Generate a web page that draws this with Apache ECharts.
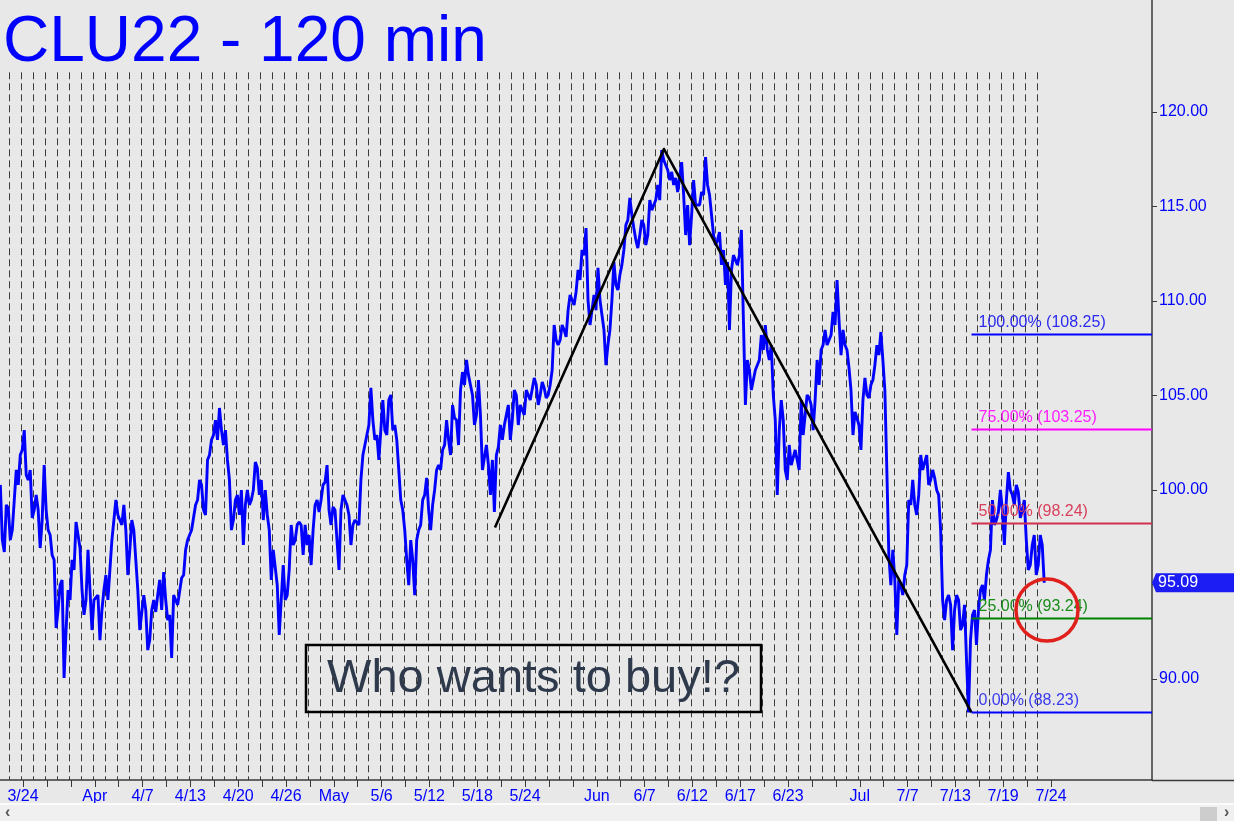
<!DOCTYPE html>
<html><head><meta charset="utf-8">
<script src="https://cdn.jsdelivr.net/npm/echarts@6/dist/echarts.min.js"></script>
<style>html,body{margin:0;padding:0;background:#e8e8e8;overflow:hidden}#c{width:1234px;height:821px}</style>
</head><body><div id="c"></div>
<script>
// ---------- DATA ----------
const chartTitle = 'CLU22 - 120 min';
const barsPerDay = 6;          // samples per trading day
const firstBarDay = -0.75;     // trading-day index of first sample
const prices = [
100.27,97.35,96.72,99.21,99.05,97.35,97.88,99.47,101.06,100.27,
101.85,102.12,103.17,100.79,100.53,101.06,98.52,98.94,99.74,98.94,
96.93,98.41,101.32,98.94,97.88,97.62,96.56,96.30,92.70,93.65,
94.97,95.24,90.05,92.59,94.71,94.18,96.30,95.77,98.31,97.62,
96.93,94.71,93.39,94.18,96.83,94.71,92.59,94.18,94.18,94.44,
92.06,93.65,94.71,95.50,94.18,95.77,97.35,97.35,99.47,98.68,
98.41,98.15,99.21,97.88,95.50,96.83,98.41,97.88,96.30,94.71,
92.59,92.59,94.44,93.65,91.53,92.06,93.65,94.18,93.55,94.44,
95.24,93.65,95.66,94.18,93.12,93.39,91.11,94.44,94.18,93.92,
93.92,95.34,95.50,96.83,97.35,97.62,97.88,97.88,99.21,99.47,
100.53,100.27,98.94,98.68,101.59,101.85,102.65,102.91,103.70,102.65,
104.34,103.17,102.38,103.17,101.59,100.53,97.88,98.41,99.47,99.74,
98.68,100.00,97.09,99.21,100.00,99.21,99.47,100.00,101.48,101.16,
99.74,100.53,98.41,100.00,98.68,97.88,95.24,96.83,96.83,94.97,
92.33,94.18,96.03,94.18,94.44,95.77,98.15,97.09,97.35,98.15,
98.31,98.15,96.56,98.15,97.09,97.62,96.03,97.88,99.21,99.47,
98.84,99.47,100.27,100.42,101.32,98.94,98.15,99.10,98.94,97.35,
95.77,98.94,99.74,99.47,99.21,98.68,97.09,98.15,98.41,98.41,
98.15,100.53,101.85,102.38,102.91,103.44,105.40,103.70,102.65,102.91,
101.59,103.17,104.76,103.17,102.91,104.76,105.03,103.17,103.44,102.65,
101.06,99.47,98.94,97.88,96.30,94.97,97.35,96.30,94.44,97.35,
97.88,98.15,99.47,99.74,100.64,98.94,97.88,99.21,100.00,101.06,
101.32,101.06,102.12,102.38,103.70,102.65,101.85,104.50,103.81,103.70,
102.38,105.29,106.24,105.56,106.88,106.08,105.56,105.03,103.44,103.97,
105.82,103.97,101.06,101.06,102.38,101.32,99.74,101.59,98.84,101.85,
102.28,103.44,102.65,103.44,103.97,104.50,102.65,103.70,105.29,105.03,
103.44,104.50,104.50,103.97,105.29,105.03,104.76,104.76,105.93,105.56,
104.50,105.03,105.71,105.40,104.87,105.03,105.56,106.35,108.73,107.94,
107.67,107.94,108.73,108.47,108.10,109.52,110.32,110.05,109.79,110.48,
111.64,111.11,112.70,112.43,113.86,110.05,108.73,109.52,110.32,109.52,
111.75,110.05,109.26,108.47,106.61,107.67,108.47,110.05,112.06,110.85,
110.58,111.38,111.91,112.70,114.02,114.29,115.45,114.55,113.86,113.23,
112.80,113.49,114.29,114.02,112.96,113.49,115.34,114.81,114.81,115.34,
116.14,115.34,117.99,117.46,117.20,116.93,116.40,116.83,116.14,116.51,
115.77,115.87,117.35,115.61,113.49,115.08,112.96,114.55,116.40,115.08,
115.08,115.08,115.77,115.61,117.62,116.14,115.61,114.55,113.49,112.96,
113.23,113.65,111.91,112.70,110.85,112.06,108.47,111.64,112.43,112.17,
111.91,112.43,113.76,108.99,104.50,106.88,106.35,105.29,105.19,106.35,
106.61,106.88,108.20,107.41,108.73,107.41,106.88,107.67,105.03,103.70,
99.74,103.17,104.76,103.70,101.06,100.53,102.38,101.32,101.32,102.12,
102.12,101.06,104.76,102.91,103.97,105.03,104.87,104.50,103.17,104.76,
106.88,105.56,107.41,107.67,108.47,107.67,107.94,108.20,109.42,108.73,
111.11,108.99,107.14,108.47,107.67,107.41,106.46,105.29,102.91,104.13,
103.81,103.44,102.12,104.76,105.93,105.03,104.87,105.56,105.82,106.61,
107.67,107.14,108.36,106.88,105.29,101.06,96.56,94.97,96.83,95.24,
92.33,95.24,94.97,94.44,95.50,96.03,99.47,99.21,100.53,99.21,
98.68,99.74,101.85,101.06,101.06,101.85,100.27,100.53,101.06,100.64,
100.00,99.74,97.88,94.18,93.12,94.18,94.44,93.92,91.53,93.65,
94.44,94.18,92.59,92.86,93.92,91.01,88.23,92.06,93.39,93.65,
91.80,93.65,94.71,94.97,94.18,95.50,96.30,96.83,99.47,98.15,
98.41,98.84,100.00,98.94,97.09,99.47,100.95,100.00,99.74,99.21,
100.27,99.89,98.52,98.94,99.47,97.35,95.77,96.03,97.09,97.62,
95.50,96.03,97.62,97.09,95.09
];
const lastPrice = 95.09;
const sessionCount = 87;       // trading-day separators
const dateLabels = ['3/24','Apr','4/7','4/13','4/20','4/26','May','5/6','5/12','5/18','5/24','Jun','6/7','6/12','6/17','6/23','Jul','7/7','7/13','7/19','7/24'];
const dateLabelDays = [1,7,11,15,19,23,27,31,35,39,43,49,53,57,61,65,71,75,79,83,87];
const dateTickDays = [1,3,5,7,9,11,13,15,17,19,21,23,25,27,29,31,33,35,37,39,41,43,45,47,49,51,53,55,57,59,61,63,65,67,69,71,73,75,77,79,81,83,85,87];
const yTickValues = [90,95,100,105,110,115,120];
const abcDays = [40.63, 54.77, 80.5];
const abcPrices = [98.02, 118.04, 88.23];
const fibPercents = ['100.00%','75.00%','50.00%','25.00%','0.00%'];
const fibValues = [108.25,103.25,98.24,93.24,88.23];
const noteText = 'Who wants to buy!?';

// ---------- STYLE / LAYOUT ----------
const FONT = '"Liberation Sans", Arial, sans-serif';
const fibLineColors = ['#0000ff','#ff00ff','#d0304f','#008000','#0000ff'];
const fibTextColors = ['#2a2af0','#ff20ff','#d8405c','#1a8c1a','#3a3af0'];
const X_MIN = -0.778, X_MAX = 95.6, Y_MIN = 84.656, Y_MAX = 125.926;
const SEP_TOP = 122.1, TICK_OFF = 0.15;

const chart = echarts.init(document.getElementById('c'), null, {renderer:'canvas'});
const priceData = prices.map((p,i)=>[firstBarDay + i/barsPerDay, p]);
const sepData = Array.from({length:sessionCount},(_,k)=>[k, Y_MIN]);
const fibData = fibValues.map((v,i)=>[abcDays[2], v, i]);

const option = {
  animation:false,
  backgroundColor:'#e8e8e8',
  grid:{left:0,right:82,top:0,bottom:41,containLabel:false},
  xAxis:{type:'value',min:X_MIN,max:X_MAX,
    axisLine:{show:true,onZero:false,lineStyle:{color:'#3a3a3a',width:1.5}},
    axisTick:{show:true,length:7,lineStyle:{color:'#3a3a3a'},customValues:dateTickDays.map(d=>d+TICK_OFF)},
    axisLabel:{show:true,color:'#0000ff',fontSize:16,fontFamily:FONT,margin:9,
      customValues:dateLabelDays.map(d=>d+TICK_OFF),
      formatter:(v)=>{const i=dateLabelDays.findIndex(d=>Math.abs(d+TICK_OFF-v)<0.01);return i>=0?dateLabels[i]:'';}},
    splitLine:{show:false}},
  yAxis:{type:'value',position:'right',min:Y_MIN,max:Y_MAX,
    axisLine:{show:true,onZero:false,lineStyle:{color:'#3a3a3a',width:1.5}},
    axisTick:{show:true,length:5,lineStyle:{color:'#3a3a3a'},customValues:yTickValues},
    axisLabel:{show:true,color:'#0000ff',fontSize:16,fontFamily:FONT,margin:7,
      customValues:yTickValues,formatter:(v)=>v.toFixed(2)},
    splitLine:{show:false}},
  series:[
    {type:'custom',name:'sep',z:1,silent:true,data:sepData,
      renderItem:(params,api)=>{
        const d=api.value(0);
        const p1=api.coord([d,SEP_TOP]), p2=api.coord([d,Y_MIN]);
        const x=Math.round(p1[0])+0.5;
        return {type:'line',shape:{x1:x,y1:p1[1],x2:x,y2:p2[1]},
          style:{stroke:'#3c3c3c',lineWidth:1,lineDash:[7,4]}};
      }},
    {type:'line',name:'price',z:3,data:priceData,showSymbol:false,symbol:'none',
      lineStyle:{color:'#0000ff',width:2.9,join:'bevel'},silent:true},
    {type:'line',name:'abc',z:4,data:abcDays.map((d,i)=>[d,abcPrices[i]]),showSymbol:false,symbol:'none',
      lineStyle:{color:'#000000',width:2.6,join:'round'},silent:true},
    {type:'custom',name:'fib',z:5,silent:true,data:fibData,
      renderItem:(params,api)=>{
        const i=api.value(2);
        const p=api.coord([api.value(0),api.value(1)]);
        const pe=api.coord([X_MAX,api.value(1)]);
        const y=Math.round(p[1])+0.5;
        return {type:'group',children:[
          {type:'line',shape:{x1:p[0],y1:y,x2:pe[0],y2:y},style:{stroke:fibLineColors[i],lineWidth:2}},
          {type:'text',x:p[0]+7,y:y-12,style:{text:fibPercents[i]+' ('+fibValues[i].toFixed(2)+')',
            fill:fibTextColors[i],font:'16px '+FONT,verticalAlign:'middle',align:'left'}}
        ]};
      }},
    {type:'custom',name:'lastTag',z:6,silent:true,data:[[X_MAX,lastPrice]],
      renderItem:(params,api)=>{
        const p=api.coord([api.value(0),api.value(1)]);
        const x=p[0], y=p[1];
        return {type:'group',children:[
          {type:'polygon',shape:{points:[[x,y],[x+4,y-9.5],[x+82,y-9.5],[x+82,y+9.5],[x+4,y+9.5]]},style:{fill:'#1c1cf4'}},
          {type:'text',x:x+6,y:y,style:{text:api.value(1).toFixed(2),fill:'#ffffff',font:'16px '+FONT,verticalAlign:'middle'}}
        ]};
      }}
  ],
  graphic:[
    {type:'text',left:3,top:11,z:10,style:{text:chartTitle,fill:'#0000ff',font:'64px '+FONT}},
    {type:'line',z:10,shape:{x1:1152,y1:780.5,x2:1234,y2:780.5},style:{stroke:'#3a3a3a',lineWidth:1.5}},
    {type:'rect',z:10,shape:{x:306,y:645,width:455,height:67},style:{fill:'none',stroke:'#000',lineWidth:2.5}},
    {type:'text',z:10,x:533.5,y:679,style:{text:noteText,fill:'#2e3a4c',font:'47px '+FONT,align:'center',verticalAlign:'middle'}},
    {type:'circle',z:11,shape:{cx:1047,cy:610,r:31},style:{fill:'none',stroke:'#e0201c',lineWidth:3.5}},
    {type:'rect',z:10,shape:{x:0,y:803,width:1234,height:2},style:{fill:'#fbfbfb'}},
    {type:'rect',z:10,shape:{x:0,y:805,width:1234,height:16},style:{fill:'#f0f0f0'}},
    {type:'rect',z:11,shape:{x:1200,y:807,width:17,height:14},style:{fill:'#cdcdcd'}},
    {type:'text',z:11,x:5,y:813,style:{text:'‹',fill:'#555',font:'bold 16px '+FONT,verticalAlign:'middle'}},
    {type:'text',z:11,x:1224,y:813,style:{text:'›',fill:'#555',font:'bold 16px '+FONT,verticalAlign:'middle'}}
  ]
};
chart.setOption(option);
</script></body></html>
